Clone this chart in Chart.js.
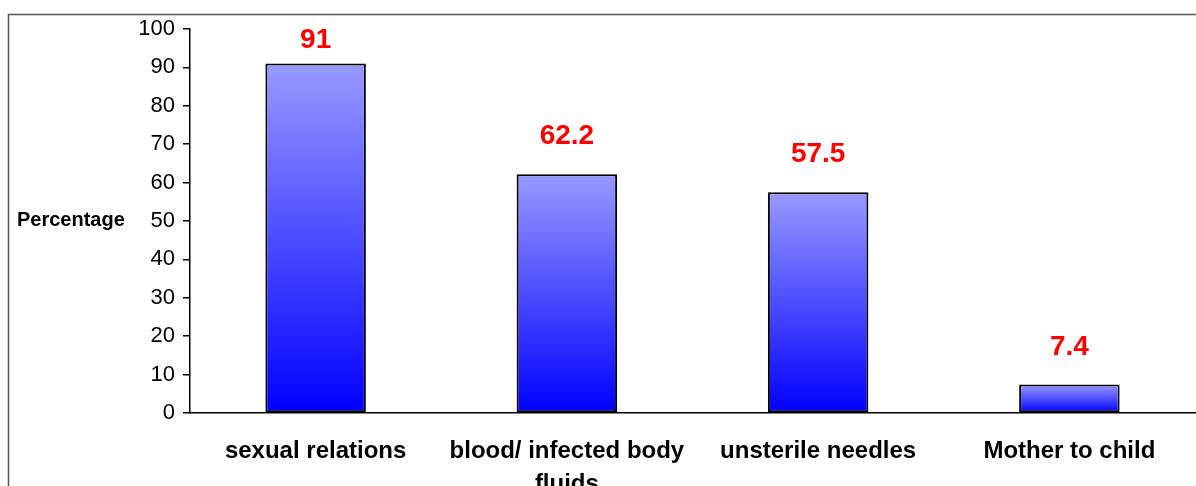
<!DOCTYPE html>
<html lang="en">
<head>
    <meta charset="UTF-8">
    <title>Percentage by route</title>
    <script src="https://cdn.jsdelivr.net/npm/chart.js"></script>
    <style>
        html, body { margin: 0; padding: 0; background: #fff; }
        #wrap { width: 1196px; height: 486px; position: relative; }
    </style>
</head>
<body>
    <div id="wrap"><canvas id="barChart"></canvas></div>

    <script>
        // chart data
        var categories = ['sexual relations', ['blood/ infected body', 'fluids'], 'unsterile needles', 'Mother to child'];
        var percentages = [91, 62.2, 57.5, 7.4];
        var yTicks = [0, 10, 20, 30, 40, 50, 60, 70, 80, 90, 100];
        var yTitle = 'Percentage';

        var FONT = '"Liberation Sans", Arial, sans-serif';

        // per-bar gradient, light at the top and blue at the base
        function barGradient(context) {
            var chart = context.chart;
            if (!chart.chartArea) return '#9999ff';
            var y = chart.scales.y;
            var top = y.getPixelForValue(context.raw);
            var base = y.getPixelForValue(0);
            var g = chart.ctx.createLinearGradient(0, top, 0, base);
            g.addColorStop(0, '#9999ff');
            g.addColorStop(1, '#0000ff');
            return g;
        }

        // outer frame and horizontal axis title
        var framePlugin = {
            id: 'frame',
            beforeDraw: function (chart) {
                var ctx = chart.ctx;
                ctx.save();
                ctx.strokeStyle = '#555';
                ctx.lineWidth = 1.5;
                ctx.strokeRect(8.5, 14.5, 1400, 600);
                ctx.fillStyle = '#000';
                ctx.font = 'bold 20px ' + FONT;
                ctx.textAlign = 'left';
                ctx.textBaseline = 'middle';
                ctx.fillText(yTitle, 17, 220);
                ctx.restore();
            }
        };

        // red value labels above each bar
        var valueLabels = {
            id: 'valueLabels',
            afterDatasetsDraw: function (chart) {
                var ctx = chart.ctx;
                var meta = chart.getDatasetMeta(0);
                ctx.save();
                ctx.fillStyle = '#ff0000';
                ctx.font = 'bold 28px ' + FONT;
                ctx.textAlign = 'center';
                ctx.textBaseline = 'alphabetic';
                meta.data.forEach(function (bar, i) {
                    var y = Math.max(bar.y - 30, chart.chartArea.top + 19);
                    ctx.fillText(String(percentages[i]), bar.x, y);
                });
                ctx.restore();
            }
        };

        var barChart = new Chart(document.getElementById('barChart'), {
            type: 'bar',
            data: {
                labels: categories,
                datasets: [{
                    label: yTitle,
                    data: percentages,
                    backgroundColor: barGradient,
                    borderColor: '#000',
                    borderWidth: 2,
                    borderSkipped: false,
                    barPercentage: 0.8,
                    categoryPercentage: 0.5
                }]
            },
            options: {
                responsive: true,
                maintainAspectRatio: false,
                animation: false,
                layout: { padding: { top: 29, right: 1, left: 0, bottom: 0 } },
                plugins: {
                    legend: { display: false },
                    tooltip: { enabled: false }
                },
                scales: {
                    x: {
                        afterFit: function (scale) { scale.height = 73; },
                        grid: { display: false, drawTicks: false },
                        border: { display: true, color: '#000', width: 1.5 },
                        ticks: {
                            color: '#000',
                            padding: 22,
                            maxRotation: 0,
                            autoSkip: false,
                            font: { family: FONT, size: 24, weight: 'bold', lineHeight: 1.375 }
                        }
                    },
                    y: {
                        min: 0,
                        max: 100,
                        afterFit: function (scale) { scale.width = 190; },
                        afterBuildTicks: function (scale) {
                            scale.ticks = yTicks.map(function (v) { return { value: v }; });
                        },
                        grid: { drawOnChartArea: false, drawTicks: true, tickLength: 7, color: '#000', lineWidth: 1.5 },
                        border: { display: true, color: '#000', width: 1.5 },
                        ticks: {
                            color: '#000',
                            padding: 8,
                            font: { family: FONT, size: 22 }
                        }
                    }
                }
            },
            plugins: [framePlugin, valueLabels]
        });
    </script>
</body>
</html>
